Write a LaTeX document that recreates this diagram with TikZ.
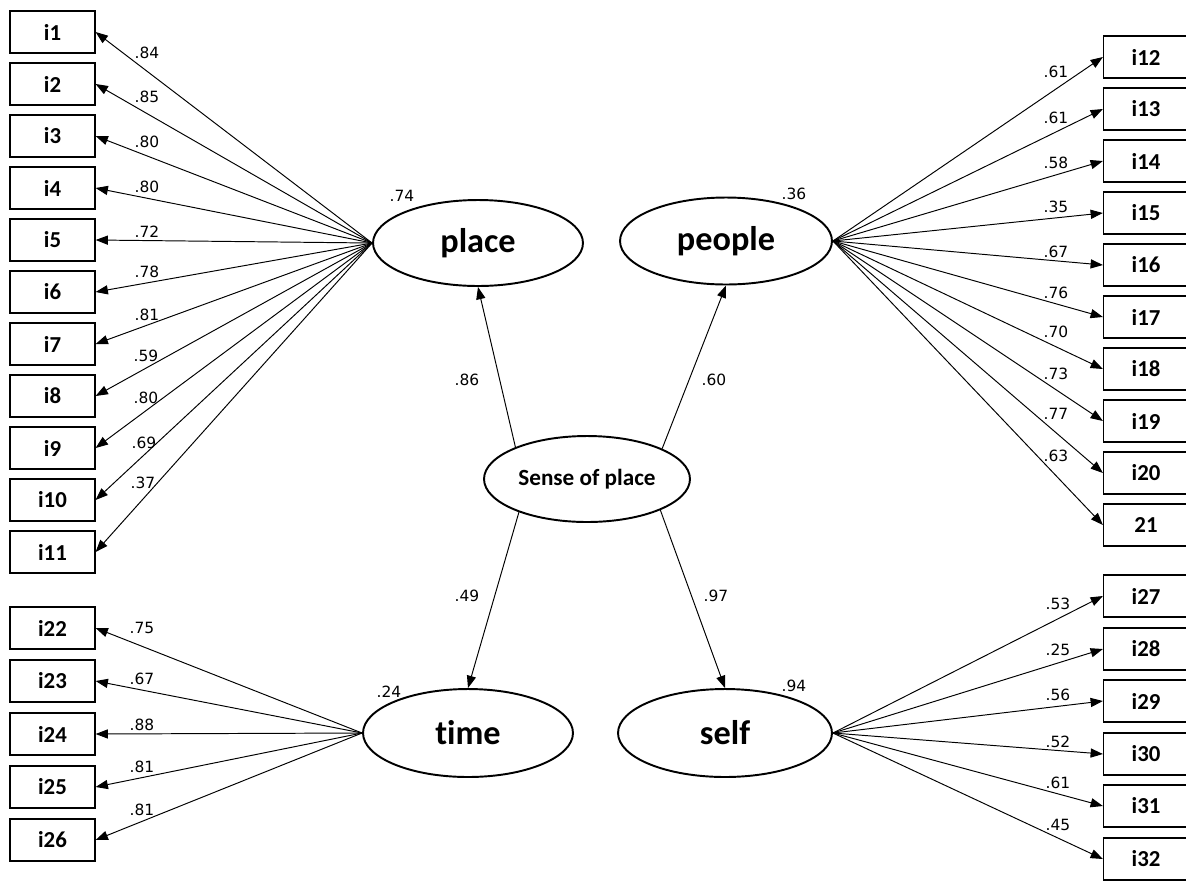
\documentclass[tikz,border=0pt]{standalone}
\usepackage{fontspec}
\setmainfont{DejaVu Sans}
\newfontfamily\carl[Ligatures={NoCommon,NoRequired}]{Carlito}
\usetikzlibrary{shapes.geometric,arrows.meta}
\begin{document}
\begin{tikzpicture}[x=0.02cm,y=-0.02cm,
  obs/.style={draw,line width=0.7pt,minimum width=1.7cm,minimum height=0.84cm,inner sep=0pt,font=\carl\bfseries\fontsize{13}{15}\selectfont},
  lat/.style={draw,ellipse,line width=1.1pt,inner sep=0pt,font=\carl\bfseries\fontsize{19.5}{22}\selectfont},
  arr/.style={-{Triangle[length=7pt,width=5.2pt]},line width=0.55pt},
  num/.style={font=\fontsize{8.8}{10}\selectfont,inner sep=0pt}]
\useasboundingbox (0,0) rectangle (1186,880);

% latent variables
\node[lat,minimum width=4.2cm,minimum height=1.72cm] (place) at (478,243) {place};
\node[lat,minimum width=4.24cm,minimum height=1.74cm] (people) at (726,241) {people};
\node[lat,minimum width=4.12cm,minimum height=1.72cm,font=\carl\bfseries\fontsize{13.2}{15}\selectfont] (sop) at (587,479) {Sense of place};
\node[lat,minimum width=4.2cm,minimum height=1.76cm] (time) at (468,733) {time};
\node[lat,minimum width=4.28cm,minimum height=1.76cm] (self) at (725,733) {self};

% left upper indicators
\foreach \n/\y in {1/32,2/84,3/136,4/188,5/240,6/292,7/344,8/396,9/448,10/500,11/552}{
  \node[obs] (i\n) at (52.5,\y) {i\n};
  \draw[arr] (place.west) -- (i\n.east);
}
% right upper indicators
\foreach \n/\t/\y in {12/i12/57,13/i13/109,14/i14/161,15/i15/213,16/i16/265,17/i17/317,18/i18/369,19/i19/421,20/i20/473,21/21/525}{
  \node[obs] (i\n) at (1146,\y) {\t};
  \draw[arr] (people.east) -- (i\n.west);
}
% left lower indicators
\foreach \n/\y in {22/628,23/681,24/734,25/787,26/840}{
  \node[obs] (i\n) at (52.5,\y) {i\n};
  \draw[arr] (time.west) -- (i\n.east);
}
% right lower indicators
\foreach \n/\y in {27/596,28/649,29/701,30/754,31/806,32/859}{
  \node[obs] (i\n) at (1146,\y) {i\n};
  \draw[arr] (self.east) -- (i\n.west);
}

% structural paths
\draw[arr] (sop.156) -- (place.south);
\draw[arr] (sop.22) -- (people.south);
\draw[arr] (sop.206) -- (time.north);
\draw[arr] (sop.-23) -- (self.north);

% structural labels
\node[num] (p1) at (467,380) {.86};
\node[num] (p2) at (714,380) {.60};
\node[num] (p3) at (467,596) {.49};
\node[num] (p4) at (716,596) {.97};

% squared multiple correlations
\node[num] (r1) at (402,196) {.74};
\node[num] (r2) at (794,194) {.36};
\node[num] (r3) at (389,692) {.24};
\node[num] (r4) at (794,686) {.94};

% loadings left upper
\foreach \v/\x/\y [count=\k] in {.84/147/53,.85/147/97,.80/147/142,.80/147/187,.72/147/232,.78/147/272,.81/147/315,.59/146/356,.80/146/398,.69/144/443,.37/143/483}{
  \node[num] (la\k) at (\x,\y) {\v};
}
% loadings right upper
\foreach \v/\y [count=\k] in {.61/72,.61/118,.58/163,.35/207,.67/252,.76/293,.70/332,.73/374,.77/414,.63/456}{
  \node[num] (lb\k) at (1056,\y) {\v};
}
% loadings left lower
\foreach \v/\y [count=\k] in {.75/628,.67/679,.88/725,.81/767,.81/810}{
  \node[num] (lc\k) at (142,\y) {\v};
}
% loadings right lower
\foreach \v/\y [count=\k] in {.53/604,.25/650,.56/695,.52/742,.61/783,.45/825}{
  \node[num] (ld\k) at (1058,\y) {\v};
}
\end{tikzpicture}
\end{document}
